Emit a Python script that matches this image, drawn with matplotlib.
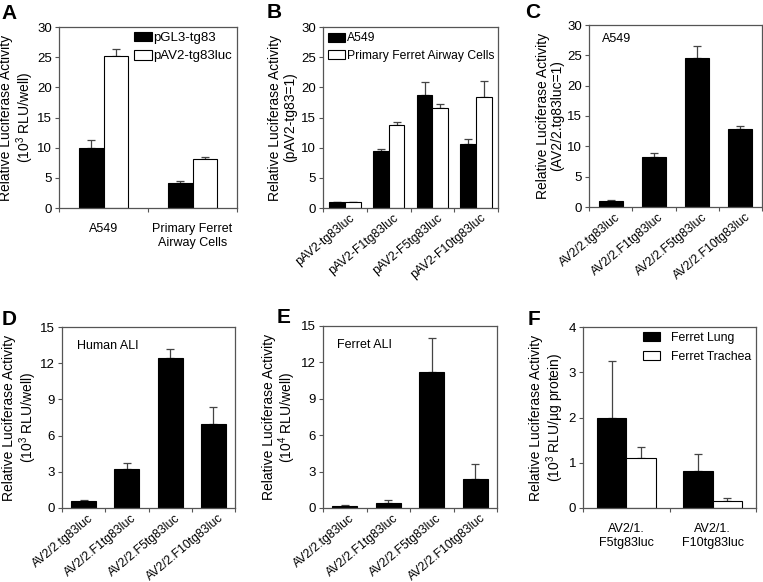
import numpy as np
import matplotlib
matplotlib.use('Agg')
import matplotlib.pyplot as plt

plt.rcParams['font.family'] = ['Liberation Sans', 'DejaVu Sans']
plt.rcParams['mathtext.fontset'] = 'custom'
plt.rcParams['mathtext.rm'] = 'Liberation Sans'
plt.rcParams['mathtext.it'] = 'Liberation Sans:italic'

# Panel A
a_groups = ['A549', 'Primary Ferret\nAirway Cells']
a_pgl3 = [10.0, 4.2]
a_pgl3_err = [1.2, 0.35]
a_pav2 = [25.2, 8.1]
a_pav2_err = [1.2, 0.3]

# Panel B
b_labels = ['pAV2-tg83luc', 'pAV2-F1tg83luc', 'pAV2-F5tg83luc', 'pAV2-F10tg83luc']
b_a549 = [1.0, 9.5, 18.7, 10.6]
b_a549_err = [0.05, 0.2, 2.2, 0.8]
b_ferret = [1.0, 13.8, 16.6, 18.4]
b_ferret_err = [0.05, 0.4, 0.7, 2.7]

# Panels C, D, E
av_labels = ['AV2/2.tg83luc', 'AV2/2.F1tg83luc', 'AV2/2.F5tg83luc', 'AV2/2.F10tg83luc']
c_vals = [1.0, 8.3, 24.5, 12.9]
c_err = [0.15, 0.6, 2.0, 0.4]
d_vals = [0.6, 3.2, 12.4, 7.0]
d_err = [0.08, 0.5, 0.8, 1.4]
e_vals = [0.2, 0.45, 11.2, 2.4]
e_err = [0.05, 0.2, 2.8, 1.2]

# Panel F
f_groups = ['AV2/1.\nF5tg83luc', 'AV2/1.\nF10tg83luc']
f_lung = [2.0, 0.82]
f_lung_err = [1.25, 0.37]
f_trachea = [1.1, 0.15]
f_trachea_err = [0.25, 0.07]

W, H = 763, 582
fig = plt.figure(figsize=(W / 100, H / 100), dpi=100)


def make_ax(l, t, r, b):
    return fig.add_axes([l / W, 1 - b / H, (r - l) / W, (b - t) / H])


def style(ax, n, ymax, step):
    ax.set_xlim(-0.5, n - 0.5)
    ax.set_ylim(0, ymax)
    ax.set_yticks(np.arange(0, ymax + 0.01, step))
    ax.set_xticks(np.arange(n + 1) - 0.5)
    ax.tick_params(axis='x', length=3, labelbottom=False, width=0.8, color='#555555')
    ax.tick_params(axis='y', direction='out', length=3, pad=2, labelsize=9.5,
                   width=0.8, color='#555555')
    for s in ax.spines.values():
        s.set_linewidth(0.9)
        s.set_color('#555555')


def bars(ax, x, vals, err, color, w):
    b = ax.bar(x, vals, w, color=color, edgecolor='black', linewidth=0.8, zorder=2)
    ax.errorbar(x, vals, yerr=[np.zeros(len(vals)), err], fmt='none',
                ecolor='#444444', elinewidth=0.9, capsize=2.8, capthick=0.9, zorder=1)
    return b


def ylab(ax, text, pad=1):
    ax.set_ylabel(text, fontsize=10, labelpad=pad, linespacing=1.05)


def cat_labels(ax, labels, rotate):
    x = np.arange(len(labels))
    if rotate:
        for xi, lab in zip(x, labels):
            ax.text(xi + 0.1, -0.022, lab, transform=ax.get_xaxis_transform(),
                    rotation=40, ha='right', va='top', fontsize=8.8,
                    rotation_mode='anchor')
    else:
        for xi, lab in zip(x, labels):
            ax.text(xi, -0.085, lab, transform=ax.get_xaxis_transform(),
                    ha='center', va='top', fontsize=9, linespacing=1.15)


def letter(ax, s, dx, dy):
    ax.annotate(s, xy=(0, 1), xycoords='axes fraction', xytext=(dx, dy),
                textcoords='offset pixels', fontsize=15, fontweight='bold',
                ha='left', va='baseline')


def legend(ax, handles, labels, loc, fs, hl, tp, ls, bp):
    ax.legend(handles, labels, loc=loc, frameon=False, fontsize=fs,
              handlelength=hl, handleheight=0.75, handletextpad=tp,
              labelspacing=ls, borderaxespad=bp, borderpad=0.1)


# A
ax = make_ax(59, 27, 237, 208)
x = np.arange(2)
h1 = bars(ax, x - 0.14, a_pgl3, a_pgl3_err, 'black', 0.28)
h2 = bars(ax, x + 0.14, a_pav2, a_pav2_err, 'white', 0.28)
style(ax, 2, 30, 5)
cat_labels(ax, a_groups, False)
ylab(ax, 'Relative Luciferase Activity\n(10$^3$ RLU/well)')
legend(ax, [h1, h2], ['pGL3-tg83', 'pAV2-tg83luc'], 'upper right', 9.5, 1.35, 0.15, 0.45, 0.25)
letter(ax, 'A', -58, 8)

# B
ax = make_ax(323, 27, 498, 208)
x = np.arange(4)
h1 = bars(ax, x - 0.18, b_a549, b_a549_err, 'black', 0.36)
h2 = bars(ax, x + 0.18, b_ferret, b_ferret_err, 'white', 0.36)
style(ax, 4, 30, 5)
cat_labels(ax, b_labels, True)
ylab(ax, 'Relative Luciferase Activity\n(pAV2-tg83=1)', pad=3)
legend(ax, [h1, h2], ['A549', 'Primary Ferret Airway Cells'], 'upper left', 8.7, 1.4, 0.1, 0.45, 0.35)
letter(ax, 'B', -56, 9)

# C
ax = make_ax(589, 25, 762, 207)
bars(ax, np.arange(4), c_vals, c_err, 'black', 0.55)
style(ax, 4, 30, 5)
cat_labels(ax, av_labels, True)
ylab(ax, 'Relative Luciferase Activity\n(AV2/2.tg83luc=1)', pad=2)
ax.text(0.075, 0.955, 'A549', transform=ax.transAxes, fontsize=9, va='top')
letter(ax, 'C', -64, 7)

# D
ax = make_ax(62, 327, 235, 508)
bars(ax, np.arange(4), d_vals, d_err, 'black', 0.58)
style(ax, 4, 15, 3)
cat_labels(ax, av_labels, True)
ylab(ax, 'Relative Luciferase Activity\n(10$^3$ RLU/well)')
ax.text(0.085, 0.93, 'Human ALI', transform=ax.transAxes, fontsize=9, va='top')
letter(ax, 'D', -60, 2)

# E
ax = make_ax(323, 326, 497, 508)
bars(ax, np.arange(4), e_vals, e_err, 'black', 0.58)
style(ax, 4, 15, 3)
cat_labels(ax, av_labels, True)
ylab(ax, 'Relative Luciferase Activity\n(10$^4$ RLU/well)', pad=2)
ax.text(0.08, 0.93, 'Ferret ALI', transform=ax.transAxes, fontsize=9, va='top')
letter(ax, 'E', -46, 3)

# F
ax = make_ax(583, 327, 756, 508)
x = np.arange(2)
h1 = bars(ax, x - 0.17, f_lung, f_lung_err, 'black', 0.34)
h2 = bars(ax, x + 0.17, f_trachea, f_trachea_err, 'white', 0.34)
style(ax, 2, 4, 1)
cat_labels(ax, f_groups, False)
ylab(ax, 'Relative Luciferase Activity\n(10$^3$ RLU/µg protein)', pad=2)
legend(ax, [h1, h2], ['Ferret Lung', 'Ferret Trachea'], 'upper right', 8.8, 1.45, 0.85, 0.55, 0.3)
letter(ax, 'F', -55, 2)

fig.savefig('out.png', dpi=100)
